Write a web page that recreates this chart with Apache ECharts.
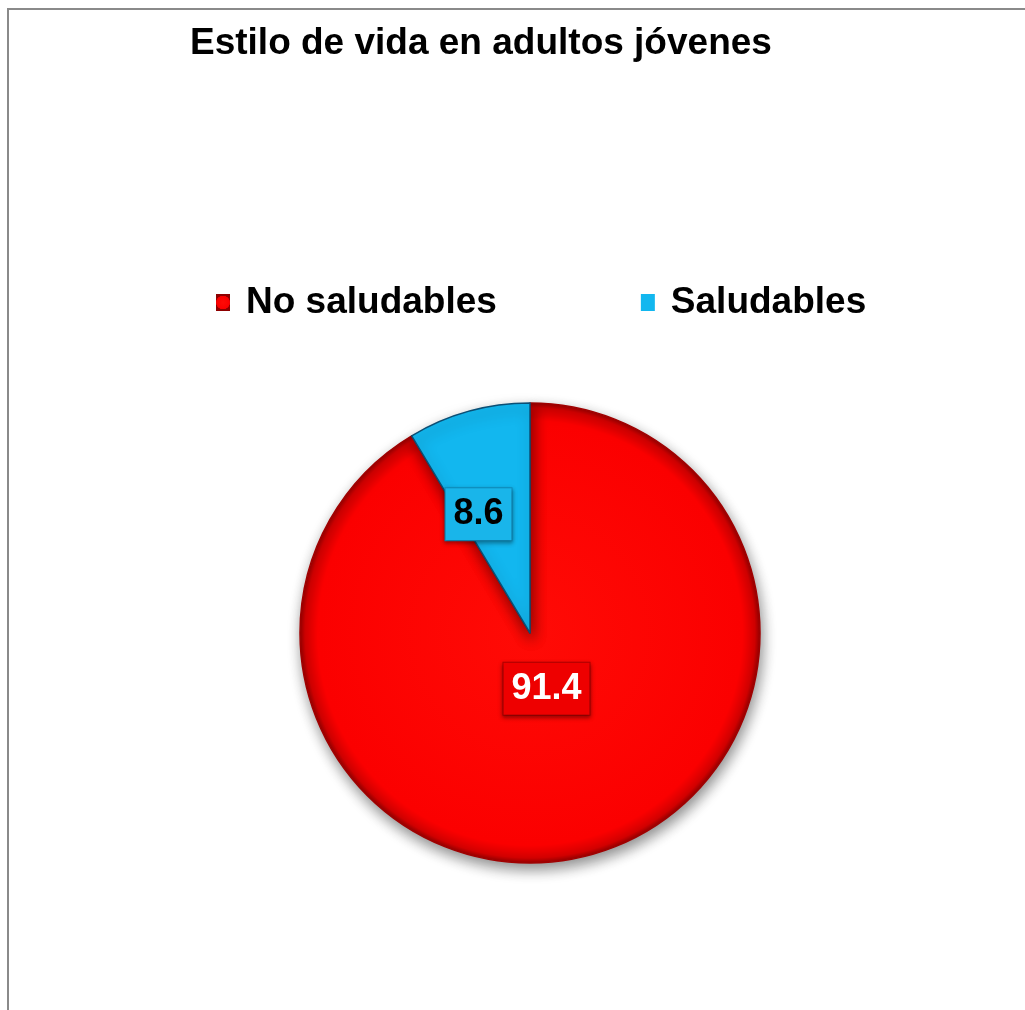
<!DOCTYPE html>
<html>
<head>
<meta charset="utf-8">
<script src="https://cdn.jsdelivr.net/npm/echarts@6/dist/echarts.min.js"></script>
<style>
html,body{margin:0;padding:0;background:#fff;overflow:hidden;}
#frame{position:absolute;left:7px;top:8px;width:1200px;height:1200px;border-left:2px solid #8a8a8a;border-top:2px solid #8a8a8a;}
#chart{position:absolute;left:0;top:0;width:1025px;height:1010px;}
</style>
</head>
<body>
<div id="frame"></div>
<div id="chart"></div>
<script>
const titleText = 'Estilo de vida en adultos jóvenes';
const categories = ['No saludables', 'Saludables'];
const values = [91.4, 8.6];

const chart = echarts.init(document.getElementById('chart'), null, {renderer: 'canvas'});
const FONT = '"Liberation Sans", Arial, Helvetica, sans-serif';

const redFill = {
  type: 'radial', x: 0.5, y: 0.5, r: 0.5,
  colorStops: [
    {offset: 0, color: '#ff0b06'},
    {offset: 0.92, color: '#fb0000'},
    {offset: 0.975, color: '#d40000'},
    {offset: 1, color: '#8e0000'}
  ]
};
const blueFill = '#12b7ef';

const labelOffsets = [[-15, -58], [-20, -5]];

chart.setOption({
  backgroundColor: 'transparent',
  title: {
    text: titleText,
    left: 190,
    top: 25,
    padding: 0,
    textStyle: {fontFamily: FONT, fontSize: 37, fontWeight: 'bold', color: '#000'}
  },
  legend: {
    data: categories,
    left: 216,
    top: 284,
    padding: 0,
    itemGap: 144,
    itemWidth: 14,
    itemHeight: 17,
    icon: 'rect',
    itemStyle: {borderWidth: 0, shadowBlur: 0},
    textStyle: {fontFamily: FONT, fontSize: 37, fontWeight: 'bold', color: '#000', padding: [0, 0, 0, 11]}
  },
  series: [{
    type: 'pie',
    center: [530, 633],
    radius: 230,
    startAngle: 90,
    clockwise: true,
    avoidLabelOverlap: false,
    label: {
      show: true,
      position: 'inside',
      formatter: '{c}',
      fontFamily: FONT,
      fontSize: 36,
      fontWeight: 'bold',
      lineHeight: 38,
      padding: [7, 8],
      shadowColor: 'rgba(0,0,0,0.35)',
      shadowBlur: 4,
      shadowOffsetY: 2
    },
    labelLine: {show: false},
    labelLayout: function (p) {
      const o = labelOffsets[p.dataIndex];
      return {dx: o[0], dy: o[1]};
    },
    emphasis: {disabled: true},
    data: categories.map(function (c, i) {
      const isRed = i === 0;
      return {
        name: c,
        value: values[i],
        itemStyle: {
          color: isRed ? redFill : blueFill,
          borderColor: isRed ? '#a00000' : '#0b4f75',
          borderWidth: 1.5,
          shadowColor: 'rgba(0,0,0,0.45)',
          shadowBlur: 14,
          shadowOffsetX: 2,
          shadowOffsetY: 6
        },
        label: {
          color: isRed ? '#ffffff' : '#000000',
          backgroundColor: isRed ? '#ee0000' : '#19b5ea',
          borderColor: isRed ? '#b00000' : '#0f8fc0',
          borderWidth: 1
        }
      };
    })
  }]
});
</script>
</body>
</html>
